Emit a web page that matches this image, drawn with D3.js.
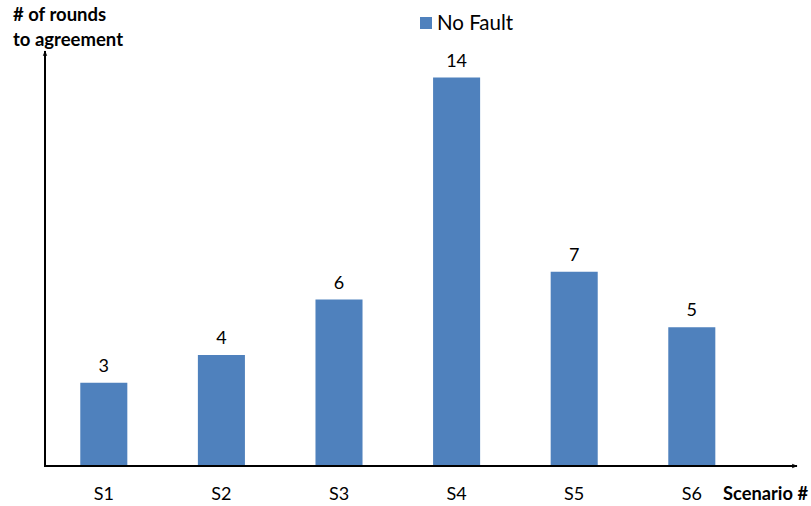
<!DOCTYPE html>
<html>
<head>
<meta charset="utf-8">
<script src="https://cdn.jsdelivr.net/npm/d3@7"></script>
<style>
  html, body { margin: 0; padding: 0; background: #fff; }
  text { font-family: Lato, "Open Sans", "Liberation Sans", sans-serif; fill: #000; }
</style>
</head>
<body>
<svg id="chart" width="811" height="506"></svg>
<script>
// Rounds needed to reach agreement per scenario
const categories = ["S1", "S2", "S3", "S4", "S5", "S6"];
const noFault = [3, 4, 6, 14, 7, 5];
const seriesName = "No Fault";
const barColor = "#4F81BD";

const svg = d3.select("#chart");

const x0 = 45, yBase = 466;
const x = d3.scaleBand()
  .domain(categories)
  .range([x0, x0 + 6 * 117.6])
  .paddingInner(0.6)
  .paddingOuter(0.3);

const y = d3.scaleLinear()
  .domain([0, 14])
  .range([yBase, 77.5]);

// arrow head marker
const defs = svg.append("defs");
defs.append("marker")
  .attr("id", "arrow")
  .attr("viewBox", "0 0 10 10")
  .attr("refX", 9).attr("refY", 5)
  .attr("markerWidth", 6).attr("markerHeight", 6)
  .attr("markerUnits", "userSpaceOnUse")
  .attr("orient", "auto")
  .append("path")
  .attr("d", "M0,1 L10,5 L0,9 L3,5 Z")
  .attr("fill", "#000");

// bars
svg.selectAll("rect.bar")
  .data(noFault)
  .join("rect")
  .attr("class", "bar")
  .attr("x", (d, i) => x(categories[i]))
  .attr("y", d => y(d))
  .attr("width", x.bandwidth())
  .attr("height", d => yBase - y(d))
  .attr("fill", barColor);

// value labels
svg.selectAll("text.val")
  .data(noFault)
  .join("text")
  .attr("class", "val")
  .attr("x", (d, i) => x(categories[i]) + x.bandwidth() / 2)
  .attr("y", d => y(d) - 11)
  .attr("text-anchor", "middle")
  .attr("font-size", 18)
  .text(d => d);

// category labels
svg.selectAll("text.cat")
  .data(categories)
  .join("text")
  .attr("class", "cat")
  .attr("x", d => x(d) + x.bandwidth() / 2)
  .attr("y", 500)
  .attr("text-anchor", "middle")
  .attr("font-size", 18)
  .text(d => d);

// axes with arrows
svg.append("line")
  .attr("x1", x0).attr("y1", yBase)
  .attr("x2", 797).attr("y2", yBase)
  .attr("stroke", "#000").attr("stroke-width", 2)
  .attr("marker-end", "url(#arrow)");
svg.append("line")
  .attr("x1", x0).attr("y1", yBase + 1)
  .attr("x2", x0).attr("y2", 51)
  .attr("stroke", "#000").attr("stroke-width", 2)
  .attr("marker-end", "url(#arrow)");

// axis titles
svg.append("text")
  .attr("x", 13).attr("y", 21)
  .attr("font-size", 18.5).attr("font-weight", "bold")
  .text("# of rounds");
svg.append("text")
  .attr("x", 13).attr("y", 46)
  .attr("font-size", 18.5).attr("font-weight", "bold")
  .text("to agreement");
svg.append("text")
  .attr("x", 808).attr("y", 500)
  .attr("text-anchor", "end")
  .attr("font-size", 18.3).attr("font-weight", "bold")
  .text("Scenario #");

// legend
svg.append("rect")
  .attr("x", 420).attr("y", 17)
  .attr("width", 12).attr("height", 12)
  .attr("fill", barColor);
svg.append("text")
  .attr("x", 437).attr("y", 30)
  .attr("font-size", 20.5)
  .text(seriesName);
</script>
</body>
</html>
